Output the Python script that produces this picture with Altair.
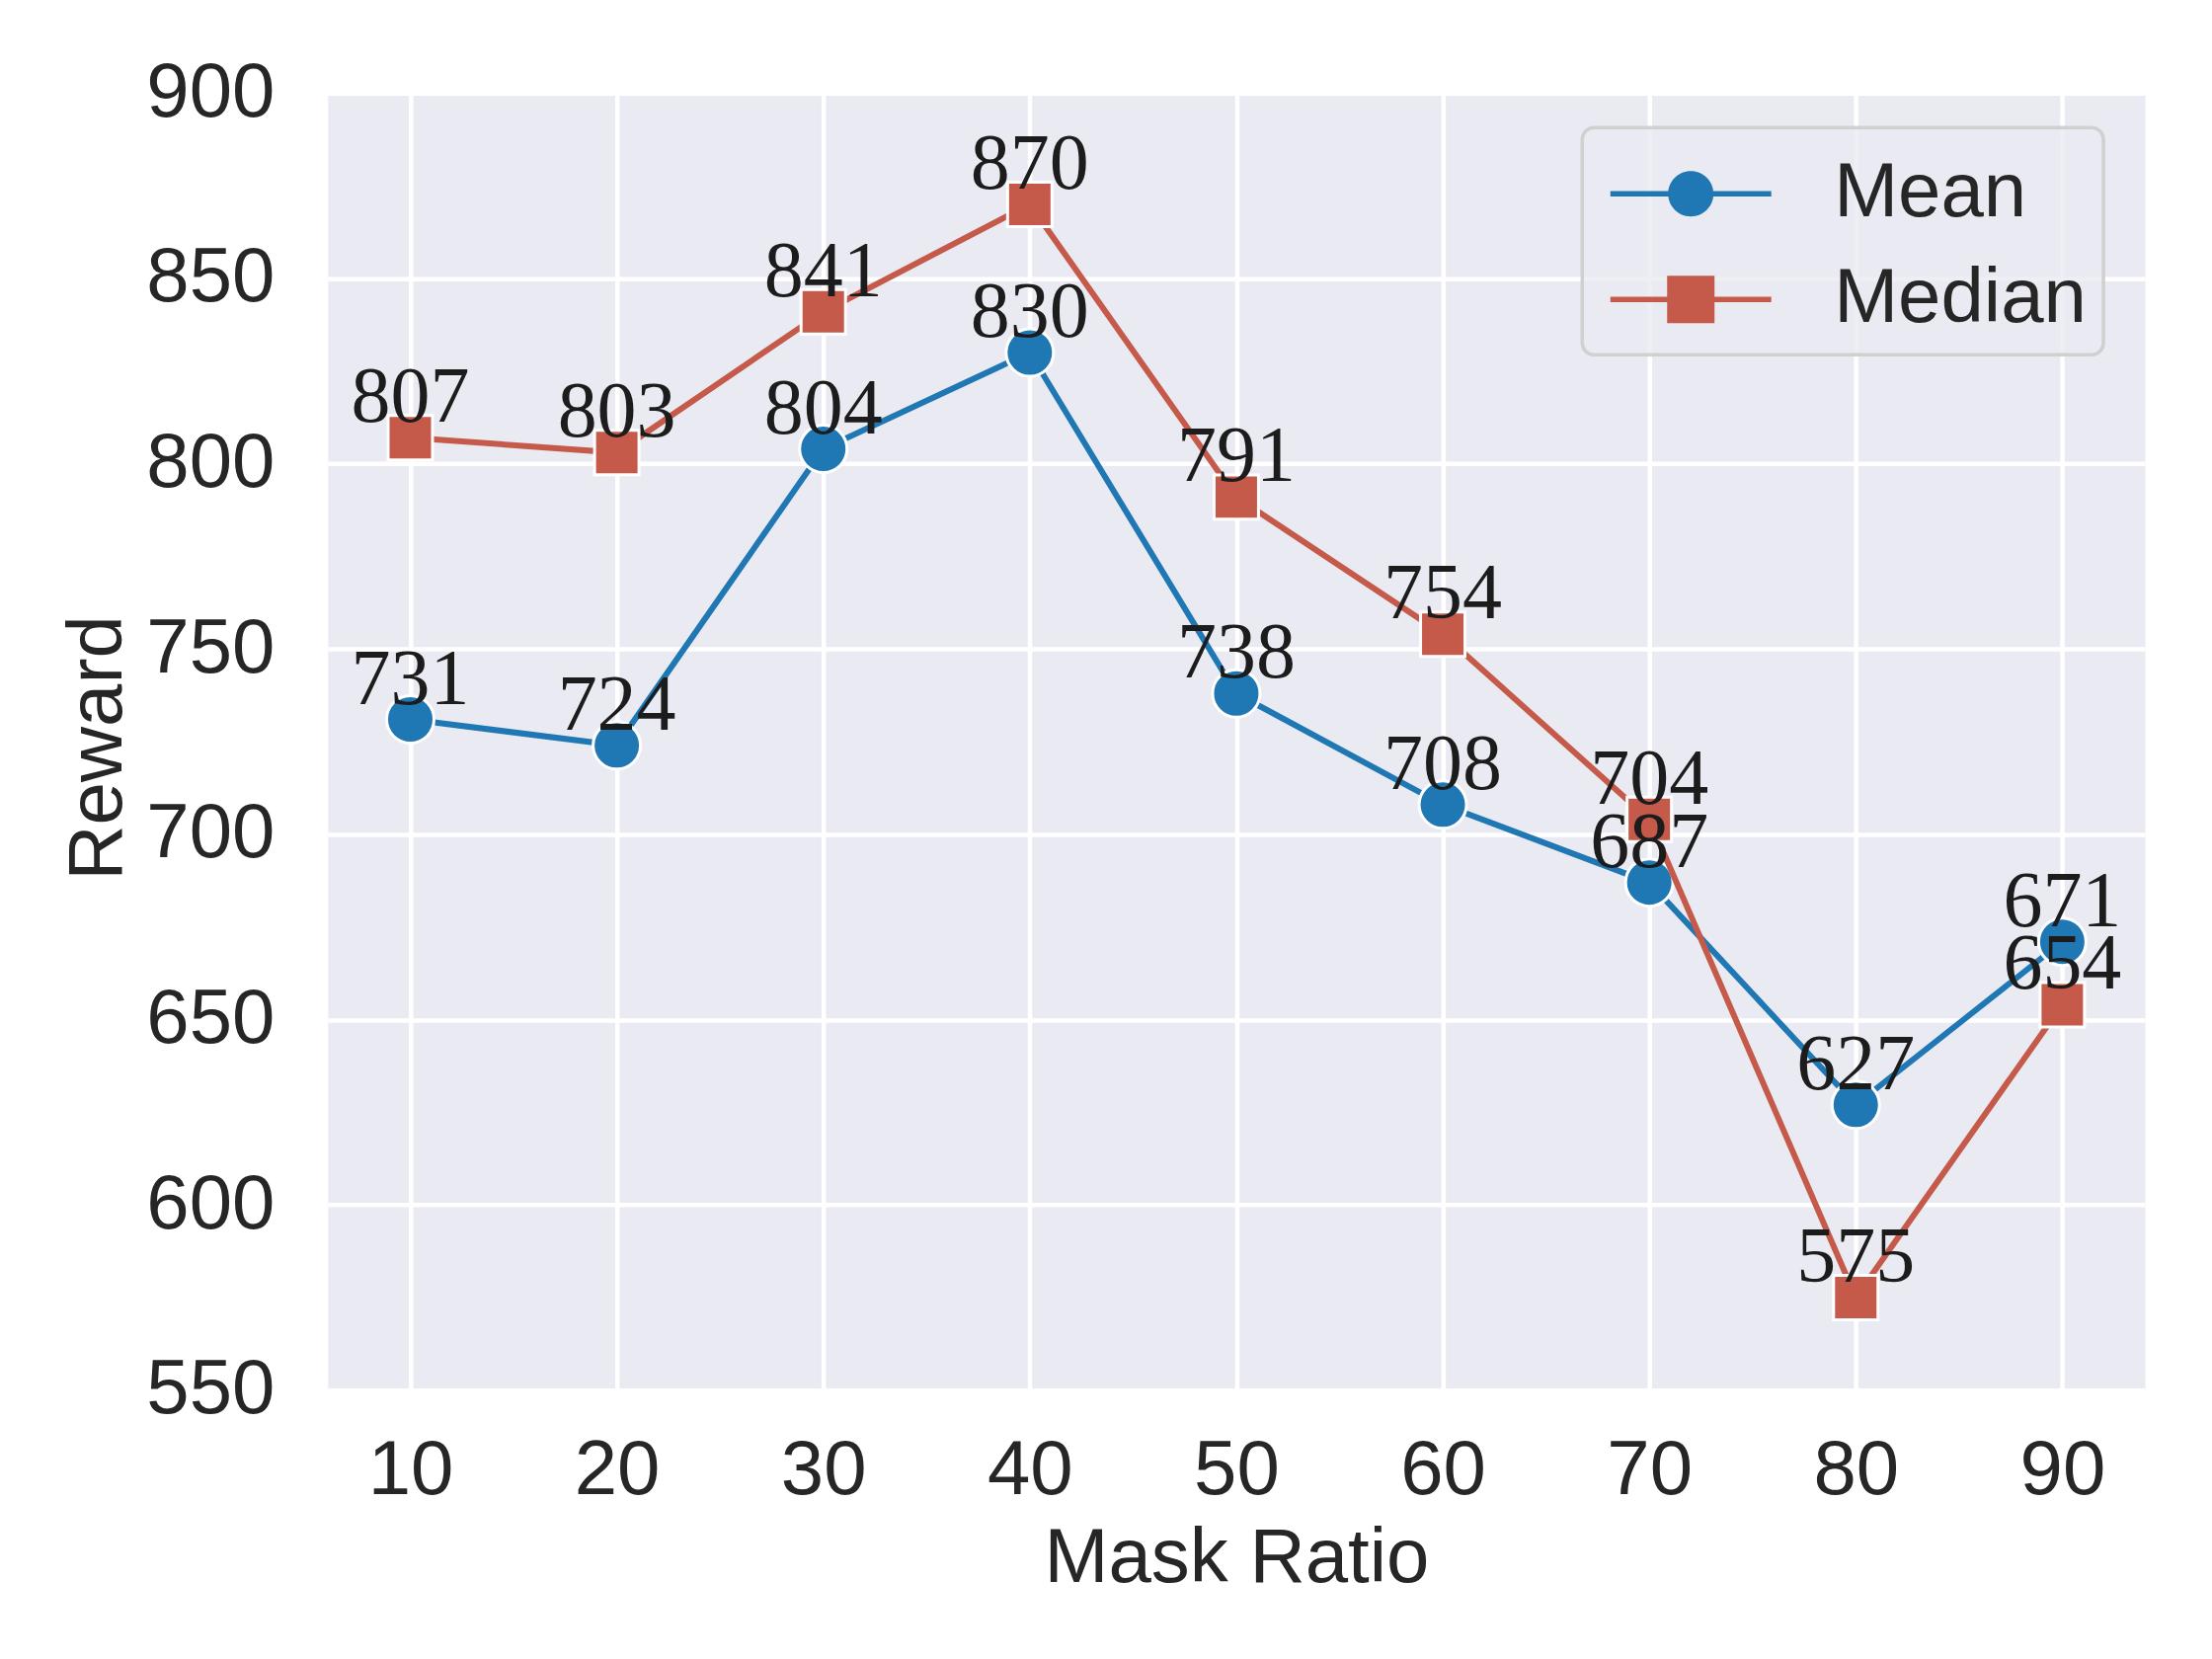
import altair as alt
import pandas as pd

# ---- data ----
mask_ratio = [10, 20, 30, 40, 50, 60, 70, 80, 90]
mean_reward = [731, 724, 804, 830, 738, 708, 687, 627, 671]
median_reward = [807, 803, 841, 870, 791, 754, 704, 575, 654]
series_names = ["Mean", "Median"]
series_colors = ["#1f77b4", "#c55a4b"]
x_ticks = [10, 20, 30, 40, 50, 60, 70, 80, 90]
y_ticks = [550, 600, 650, 700, 750, 800, 850, 900]

df = pd.DataFrame({
    "Mask Ratio": mask_ratio + mask_ratio,
    "Reward": mean_reward + median_reward,
    "Series": ["Mean"] * len(mask_ratio) + ["Median"] * len(mask_ratio),
})

SANS = "Liberation Sans"
SERIF = "Liberation Serif"
TXT = "#262626"
W, H = 1841, 1314

# legend symbols: line with marker (unit = sqrt(symbolSize)/2 = 50px)
line_part = "M-1.63,-0.055 L1.63,-0.055 L1.63,0.055 L-1.63,0.055 Z "
path_mean = line_part + "M-0.46,0 A0.46,0.46 0 1,1 0.46,0 A0.46,0.46 0 1,1 -0.46,0 Z"
path_median = line_part + "M-0.48,-0.48 L0.48,-0.48 L0.48,0.48 L-0.48,0.48 Z"

x_enc = alt.X(
    "Mask Ratio:Q",
    scale=alt.Scale(domain=[6, 94], nice=False, zero=False),
    axis=alt.Axis(values=x_ticks, title="Mask Ratio", labelPadding=43,
                  titleX=W / 2, titleY=194, titleAlign="center",
                  titleBaseline="alphabetic", labelAngle=0, labelFlush=False),
)
y_enc = alt.Y(
    "Reward:Q",
    scale=alt.Scale(domain=[550, 900], nice=False, zero=False),
    axis=alt.Axis(values=y_ticks, title="Reward", labelPadding=54,
                  titleX=-209, titleY=663, titleAngle=270, titleAlign="center",
                  titleBaseline="alphabetic", labelFlush=False),
)

base = alt.Chart(df)
mean_base = base.transform_filter(alt.datum.Series == series_names[0])
median_base = base.transform_filter(alt.datum.Series == series_names[1])

line_mean = mean_base.mark_line(strokeWidth=6, color=series_colors[0]).encode(x=x_enc, y=y_enc)
line_median = median_base.mark_line(strokeWidth=6, color=series_colors[1]).encode(x=x_enc, y=y_enc)

pts_mean = mean_base.mark_point(
    shape="circle", size=2304, filled=True, opacity=1, fill=series_colors[0],
    stroke="white", strokeWidth=3
).encode(x=x_enc, y=y_enc)

pts_median = median_base.mark_point(
    shape="square", size=2025, filled=True, opacity=1, fill=series_colors[1],
    stroke="white", strokeWidth=3
).encode(x=x_enc, y=y_enc)

# legend-carrying layer (invisible points), symbols = line + marker
legend_layer = base.mark_point(filled=True, opacity=0).encode(
    x=x_enc, y=y_enc,
    color=alt.Color("Series:N", scale=alt.Scale(domain=series_names, range=series_colors),
                    legend=alt.Legend(title=None)),
    shape=alt.Shape("Series:N", scale=alt.Scale(domain=series_names, range=[path_mean, path_median]),
                    legend=alt.Legend(title=None)),
)

labels = base.mark_text(font=SERIF, fontSize=80, dy=-16, baseline="alphabetic",
                        align="center", color="#1c1c1c").encode(
    x=x_enc, y=y_enc, text="Reward:Q"
)

chart = (
    alt.layer(line_mean, pts_mean, line_median, pts_median, labels, legend_layer)
    .properties(
        width=W, height=H,
        autosize=alt.AutoSizeParams(type="none"),
        padding={"left": 324, "top": 86, "right": 60, "bottom": 264},
        background="white",
    )
    .configure_view(fill="#EAEAF2", stroke="transparent")
    .configure_axis(
        grid=True, gridColor="white", gridWidth=4.5, domain=False, ticks=False, tickSize=0,
        labelFont=SANS, labelFontSize=78, labelColor=TXT,
        titleFont=SANS, titleFontSize=78, titleFontWeight="normal", titleColor=TXT,
    )
    .configure_legend(
        orient="none", legendX=1271, legendY=35, padding=17,
        fillColor="rgba(234,234,242,0.8)", strokeColor="#d0d0d0", strokeWidth=3.5,
        cornerRadius=12, labelFont=SANS, labelFontSize=78, labelColor=TXT, labelLimit=600,
        symbolSize=10000, symbolOffset=43, labelOffset=95, rowPadding=18,
        symbolStrokeWidth=0, symbolOpacity=1,
    )
)

chart.save("out.html", embed_options={"renderer": "svg", "actions": False})
